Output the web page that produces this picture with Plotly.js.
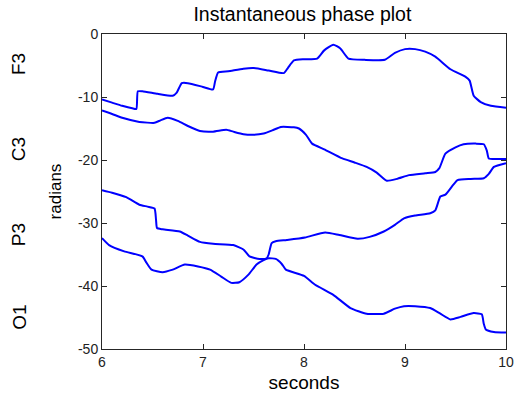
<!DOCTYPE html>
<html>
<head>
<meta charset="utf-8">
<script src="https://cdn.plot.ly/plotly-3.0.1.min.js"></script>
<style>html,body{margin:0;padding:0;background:#fff;}#chart{width:514px;height:393px;}</style>
</head>
<body>
<div id="chart"></div>
<script>
var channelLabels = ["F3", "C3", "P3", "O1"];
var xTicks = [6, 7, 8, 9, 10];
var yTicks = [0, -10, -20, -30, -40, -50];

var f3X = [6.00, 6.10, 6.20, 6.30, 6.34, 6.355, 6.40, 6.55, 6.70, 6.74, 6.79, 6.85, 7.00, 7.10, 7.12, 7.15, 7.25, 7.40, 7.50, 7.65, 7.80, 7.84, 7.90, 8.00, 8.13, 8.20, 8.29, 8.36, 8.44, 8.60, 8.80, 8.90, 9.00, 9.10, 9.20, 9.30, 9.45, 9.60, 9.64, 9.68, 9.75, 9.85, 10.00];
var f3Y = [-10.4, -10.9, -11.4, -11.8, -11.9, -9.1, -9.1, -9.5, -9.8, -9.3, -7.8, -7.8, -8.4, -8.8, -7.5, -6.1, -5.9, -5.5, -5.4, -5.8, -6.2, -5.4, -4.2, -4.0, -3.9, -2.6, -1.7, -2.3, -3.9, -4.1, -4.1, -3.0, -2.4, -2.4, -2.8, -3.6, -5.6, -6.8, -7.4, -9.8, -10.8, -11.4, -11.7];

var c3X = [6.00, 6.10, 6.20, 6.37, 6.52, 6.58, 6.65, 6.75, 6.85, 6.97, 7.10, 7.23, 7.30, 7.40, 7.50, 7.60, 7.70, 7.77, 7.90, 7.95, 8.02, 8.08, 8.20, 8.38, 8.50, 8.62, 8.72, 8.82, 8.92, 9.04, 9.20, 9.30, 9.34, 9.40, 9.50, 9.58, 9.70, 9.78, 9.81, 9.83, 9.90, 10.00];
var c3Y = [-12.15, -12.7, -13.3, -13.95, -14.1, -13.7, -13.3, -13.8, -14.6, -15.4, -15.5, -15.2, -15.5, -15.9, -16.0, -15.8, -15.2, -14.75, -14.8, -15.0, -16.0, -17.4, -18.3, -19.75, -20.4, -21.1, -22.0, -23.3, -23.0, -22.4, -22.1, -21.9, -21.3, -19.0, -18.0, -17.5, -17.4, -17.5, -18.5, -19.75, -19.85, -19.85];

var p3X = [6.00, 6.10, 6.24, 6.37, 6.45, 6.52, 6.535, 6.545, 6.60, 6.77, 6.85, 6.97, 7.10, 7.30, 7.40, 7.46, 7.56, 7.63, 7.65, 7.68, 7.72, 7.83, 8.01, 8.21, 8.35, 8.53, 8.65, 8.79, 8.90, 8.99, 9.10, 9.25, 9.30, 9.35, 9.40, 9.52, 9.65, 9.78, 9.83, 9.88, 10.00];
var p3Y = [-24.8, -25.2, -25.9, -27.1, -27.4, -27.7, -29.5, -30.8, -31.0, -31.35, -32.0, -33.0, -33.3, -33.5, -34.2, -35.3, -35.7, -35.6, -35.0, -33.2, -32.9, -32.7, -32.3, -31.5, -31.9, -32.5, -32.2, -31.35, -30.3, -29.25, -28.8, -28.45, -28.0, -25.8, -25.5, -23.2, -23.0, -22.9, -22.2, -21.1, -20.5];

var o1X = [6.00, 6.07, 6.22, 6.40, 6.44, 6.49, 6.60, 6.70, 6.82, 6.95, 7.07, 7.18, 7.28, 7.36, 7.45, 7.53, 7.60, 7.65, 7.72, 7.78, 7.82, 8.00, 8.11, 8.29, 8.46, 8.62, 8.79, 8.90, 8.99, 9.10, 9.25, 9.35, 9.45, 9.55, 9.68, 9.76, 9.78, 9.80, 9.88, 10.00];
var o1Y = [-32.4, -33.5, -34.5, -35.3, -36.3, -37.4, -37.8, -37.4, -36.6, -36.9, -37.4, -38.5, -39.5, -39.4, -38.2, -36.6, -35.9, -35.6, -35.7, -36.5, -37.4, -38.4, -39.8, -41.4, -43.5, -44.4, -44.4, -43.6, -43.2, -43.2, -43.5, -44.4, -45.3, -44.9, -44.3, -44.5, -46.0, -46.9, -47.3, -47.4];

var seriesX = [f3X, c3X, p3X, o1X];
var seriesY = [f3Y, c3Y, p3Y, o1Y];
var labelY = [0.905, 0.635, 0.362, 0.1];

var traces = seriesX.map(function (xs, i) {
  return {
    x: xs, y: seriesY[i], name: channelLabels[i], type: 'scatter', mode: 'lines',
    line: {color: '#0000ff', width: 2, shape: 'spline', smoothing: 0.5},
    showlegend: false, hoverinfo: 'x+y'
  };
});

var font = 'Liberation Sans, Arial, sans-serif';
var annotations = channelLabels.map(function (t, i) {
  return {text: t, xref: 'paper', yref: 'paper', x: -0.205, y: labelY[i],
          xanchor: 'center', yanchor: 'middle', textangle: -90, showarrow: false,
          font: {family: font, size: 19, color: '#000'}};
});

var layout = {
  width: 514, height: 393,
  margin: {l: 102, r: 8, t: 34, b: 44, pad: 0},
  paper_bgcolor: '#fff', plot_bgcolor: '#fff',
  font: {family: font, color: '#000'},
  title: {text: 'Instantaneous phase plot', x: 0.496, xref: 'paper', y: 0.963, yref: 'container',
          xanchor: 'center', yanchor: 'middle', font: {family: font, size: 19.5, color: '#000'}},
  xaxis: {
    range: [6, 10], tickvals: xTicks, ticktext: xTicks.map(String),
    ticks: 'inside', ticklen: 5, tickcolor: '#262626', mirror: 'allticks',
    showline: true, linecolor: '#262626', linewidth: 1, showgrid: false, zeroline: false,
    tickfont: {family: font, size: 14, color: '#222'},
    title: {text: 'seconds', standoff: 6, font: {family: font, size: 19, color: '#000'}}
  },
  yaxis: {
    range: [-50, 0], tickvals: yTicks, ticktext: yTicks.map(String),
    ticks: 'inside', ticklen: 5, tickcolor: '#262626', mirror: 'allticks',
    showline: true, linecolor: '#262626', linewidth: 1, showgrid: false, zeroline: false,
    tickfont: {family: font, size: 14, color: '#222'},
    title: {text: 'radians', standoff: 12, font: {family: font, size: 17, color: '#000'}}
  },
  annotations: annotations
};

Plotly.newPlot('chart', traces, layout, {displayModeBar: false, staticPlot: true});
</script>
</body>
</html>
